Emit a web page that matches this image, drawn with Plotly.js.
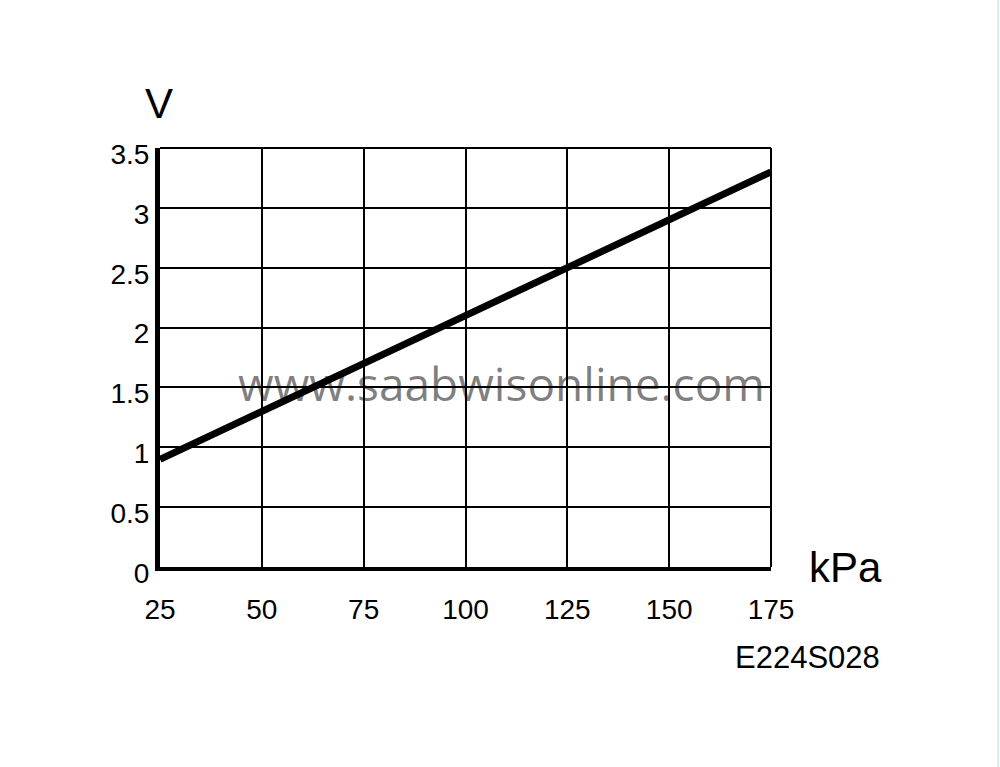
<!DOCTYPE html>
<html>
<head>
<meta charset="utf-8">
<script src="https://cdn.plot.ly/plotly-3.0.1.min.js"></script>
<style>
  html, body { margin: 0; padding: 0; background: #fff; }
  #chart { width: 1000px; height: 767px; }
</style>
</head>
<body>
<div id="chart"></div>
<script>
// Sensor output voltage vs pressure
const pressureKpa = [25, 175];
const outputVolts = [0.9, 3.3];

const xTicks = [25, 50, 75, 100, 125, 150, 175];
const yTicks = [0, 0.5, 1, 1.5, 2, 2.5, 3, 3.5];
const yTickText = ['0', '0.5', '1', '1.5', '2', '2.5', '3', '3.5'];

const axisFont = { family: 'Liberation Sans, Arial, sans-serif', size: 28, color: '#000' };

const trace = {
  type: 'scatter', mode: 'lines',
  x: pressureKpa, y: outputVolts,
  line: { color: '#000', width: 7 },
  hoverinfo: 'skip', showlegend: false
};

const layout = {
  width: 1000, height: 767,
  margin: { l: 160, r: 229, t: 148, b: 200 },
  paper_bgcolor: '#fff', plot_bgcolor: '#fff',
  showlegend: false,
  xaxis: {
    range: [25, 175], tickvals: xTicks, ticktext: xTicks.map(String),
    showgrid: true, gridcolor: '#000', gridwidth: 2,
    showline: true, linecolor: '#000', linewidth: 4,
    zeroline: false, ticks: '', ticklabelstandoff: 14,
    tickfont: axisFont, fixedrange: true
  },
  yaxis: {
    range: [0, 3.5], tickvals: yTicks, ticktext: yTickText,
    showgrid: true, gridcolor: '#000', gridwidth: 2,
    showline: true, linecolor: '#000', linewidth: 5,
    zeroline: false, ticks: '', ticklabelstandoff: 0, ticklabelshift: 6,
    tickfont: axisFont, fixedrange: true
  },
  shapes: [
    { type: 'line', xref: 'paper', yref: 'paper', x0: 0, x1: 1, y0: 1, y1: 1, line: { color: '#000', width: 2 } },
    { type: 'line', xref: 'paper', yref: 'paper', x0: 1, x1: 1, y0: 0, y1: 1, line: { color: '#000', width: 2 } },
    { type: 'line', xref: 'paper', yref: 'paper', x0: 1.372, x1: 1.372, y0: -0.8, y1: 1.4, line: { color: '#d2ecf2', width: 2 } }
  ],
  annotations: [
    { text: 'V', xref: 'paper', yref: 'paper', x: -0.002, y: 1.107, xanchor: 'center', yanchor: 'middle',
      showarrow: false, font: { family: 'Liberation Sans, Arial, sans-serif', size: 42, color: '#000' } },
    { text: 'kPa', xref: 'paper', yref: 'paper', x: 1.122, y: 0.0, xanchor: 'center', yanchor: 'middle',
      showarrow: false, font: { family: 'Liberation Sans, Arial, sans-serif', size: 42, color: '#000' } },
    { text: 'E224S028', xref: 'paper', yref: 'paper', x: 1.1817, y: -0.215, xanchor: 'right', yanchor: 'middle',
      showarrow: false, font: { family: 'Liberation Sans, Arial, sans-serif', size: 31, color: '#000' } },
    { text: 'www.saabwisonline.com', xref: 'paper', yref: 'paper', x: 0.559, y: 0.44, xanchor: 'center', yanchor: 'middle',
      showarrow: false, font: { family: 'Open Sans, sans-serif', size: 46, color: 'rgba(0,0,0,0.5)' } }
  ]
};

Plotly.newPlot('chart', [trace], layout, { displayModeBar: false, staticPlot: true });
</script>
</body>
</html>
